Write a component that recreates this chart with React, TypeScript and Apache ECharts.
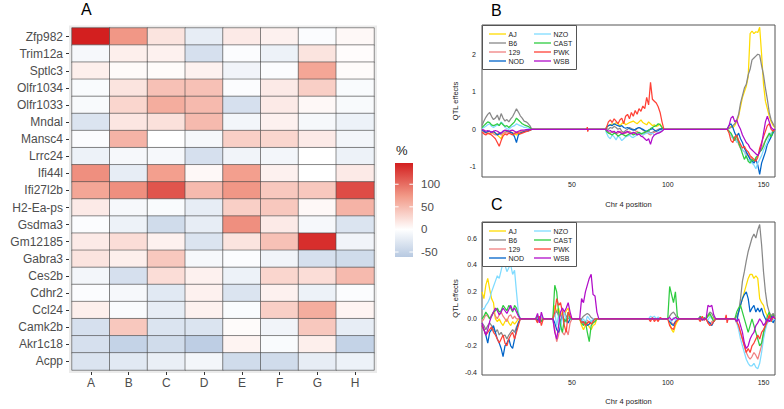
import React, { useEffect, useRef } from "react";
import * as echarts from "echarts";

// ---------------- Panel A: heatmap data ----------------
const genes = ["Zfp982","Trim12a","Sptlc3","Olfr1034","Olfr1033","Mndal","Mansc4","Lrrc24","Ifi44l","Ifi27l2b","H2-Ea-ps","Gsdma3","Gm12185","Gabra3","Ces2b","Cdhr2","Ccl24","Camk2b","Akr1c18","Acpp"];
const groups = ["A","B","C","D","E","F","G","H"];
const pct = [
  [147, 75, 20, -20, 15, 10, -3, 5],
  [-8, 12, 10, -35, -3, -15, 20, 2],
  [12, 4, 3, 10, -12, -3, 65, 3],
  [-5, 20, 45, 45, -3, 15, 35, -5],
  [-6, 30, 60, 50, -35, 15, 5, -6],
  [-30, 18, 22, 50, -10, 10, -8, -15],
  [-3, 55, 0, -8, 35, 30, 15, -10],
  [-15, -8, -8, -35, -12, -10, 0, -15],
  [80, -20, 70, 5, 70, 10, 0, 15],
  [65, 80, 115, 50, 75, 40, 40, 120],
  [15, -8, -5, -20, 35, 40, 5, 55],
  [-3, -15, -40, -20, 80, 15, -8, -30],
  [15, 25, 10, -30, 20, 45, 138, -12],
  [20, 12, 40, -8, -3, -12, -35, -40],
  [-10, -35, 25, 10, -15, 30, 25, 50],
  [-3, -8, -25, 10, -30, 10, -15, -3],
  [12, -5, -20, 10, -5, 35, 60, 8],
  [-35, 40, -30, -30, 3, -12, 40, -20],
  [-35, -50, -40, -55, 8, -5, 12, -50],
  [-30, -25, -18, -10, -40, -40, -20, -15],
];
const legendTicks = [100, 50, 0, -50];
const legendMin = -61;
const legendMax = 147;
const scaleStops: [number, string][] = [[-147, "#4682b4"], [-73.5, "#a8bedb"], [0, "#ffffff"], [73.5, "#f29a88"], [147, "#d31f1f"]];

// ---------------- Panels B & C: QTL effects ----------------
const strains = ["AJ", "B6", "129", "NOD", "NZO", "CAST", "PWK", "WSB"];
const strainColors = ["#FFDC00", "#888888", "#F08080", "#0064C9", "#7FDBFF", "#2ECC40", "#FF4136", "#B10DC9"];
const chrTicks = [50, 100, 150];
const bTicks = [-1, 0, 1, 2];
const cTicks = [-0.4, -0.2, 0, 0.2, 0.4, 0.6];

type Cluster = { pos: number[]; vals: Record<string, number[]> };

const bLeft: Cluster = {
  pos: [3,4,5,6,7,8,9,10,11,12,13,14,15,16,17,18,19,20,21,22,23,24,25,26,27,28,29],
  vals: {
    AJ: [0.0,-0.05,-0.08,-0.10,-0.12,-0.10,-0.08,-0.10,-0.15,-0.20,-0.25,-0.12,-0.08,-0.05,-0.05,-0.08,-0.10,-0.12,-0.15,-0.10,-0.08,-0.05,-0.05,-0.03,-0.02,-0.01,0],
    B6: [0.10,0.22,0.32,0.40,0.45,0.34,0.26,0.30,0.38,0.24,0.42,0.30,0.22,0.26,0.20,0.28,0.34,0.44,0.55,0.46,0.36,0.30,0.22,0.20,0.16,0.10,0],
    "129": [-0.05,-0.08,-0.10,-0.12,-0.10,-0.08,-0.12,-0.15,-0.12,-0.10,-0.15,-0.10,-0.08,-0.10,-0.08,-0.06,-0.10,-0.12,-0.10,-0.08,-0.06,-0.05,-0.05,-0.04,-0.03,-0.02,0],
    NOD: [-0.02,-0.05,-0.08,-0.06,-0.05,-0.08,-0.05,-0.10,-0.15,-0.12,-0.10,-0.05,-0.03,-0.05,-0.05,-0.08,-0.10,-0.20,-0.35,-0.15,-0.10,-0.08,-0.06,-0.05,-0.04,-0.02,0],
    NZO: [0.02,0.05,0.08,0.12,0.15,0.08,0.05,0.08,0.12,0.10,0.20,0.15,0.05,0.02,0.0,0.05,0.08,0.10,0.15,0.12,0.10,0.08,0.05,0.05,0.03,0.02,0],
    CAST: [0.05,0.10,0.15,0.20,0.18,0.12,0.10,0.12,0.15,0.10,0.18,0.12,0.08,0.10,0.05,0.10,0.15,0.20,0.30,0.25,0.20,0.15,0.12,0.10,0.08,0.05,0],
    PWK: [-0.08,-0.12,-0.15,-0.10,-0.12,-0.15,-0.20,-0.25,-0.35,-0.45,-0.30,-0.18,-0.12,-0.15,-0.10,-0.12,-0.15,-0.10,-0.08,-0.10,-0.12,-0.10,-0.08,-0.06,-0.05,-0.03,0],
    WSB: [0.0,-0.02,-0.05,-0.03,-0.05,-0.08,-0.05,-0.03,-0.05,-0.08,-0.10,-0.05,-0.02,-0.03,-0.05,-0.03,-0.02,-0.05,-0.08,-0.05,-0.03,-0.02,-0.02,-0.01,-0.01,0,0],
  },
};
const bTick: Cluster = {
  pos: [57.6, 58, 58.2, 58.6],
  vals: { PWK: [0, 0.06, -0.06, 0] },
};
const bMid: Cluster = {
  pos: [67.5,68,69,70,71,72,73,74,75,76,77,78,79,80,81,82,83,84,85,86,87,88,89,90,91,92,93,94,95,96,97,98],
  vals: {
    AJ: [0,0.05,0.10,0.12,0.15,0.12,0.18,0.15,0.10,0.15,0.20,0.12,0.15,0.18,0.20,0.22,0.18,0.15,0.20,0.25,0.18,0.15,0.12,0.20,0.15,0.10,0.12,0.08,0.10,0.15,0.05,0],
    B6: [0,0.02,0.0,0.05,0.03,0.08,0.05,0.0,0.03,-0.05,-0.08,-0.03,0.0,0.05,0.02,0.0,-0.03,0.02,0.05,0.03,-0.02,-0.05,-0.08,-0.05,-0.10,-0.08,-0.05,-0.03,0.0,0.02,0.0,0],
    "129": [0,-0.05,-0.08,-0.10,-0.05,-0.08,-0.12,-0.10,-0.05,-0.08,-0.12,-0.10,-0.08,-0.05,-0.10,-0.12,-0.08,-0.05,-0.10,-0.12,-0.15,-0.10,-0.08,-0.12,-0.15,-0.10,-0.08,-0.05,-0.10,-0.08,-0.03,0],
    NOD: [0,0.05,0.10,0.12,0.10,0.15,0.12,0.10,0.08,0.10,0.05,0.03,0.05,0.02,0.0,-0.02,0.0,0.03,0.05,0.02,0.0,-0.03,-0.05,-0.02,0.0,0.02,-0.02,-0.05,-0.03,0.0,0.02,0],
    NZO: [0,-0.10,-0.20,-0.25,-0.15,-0.20,-0.28,-0.18,-0.22,-0.30,-0.25,-0.20,-0.18,-0.15,-0.20,-0.22,-0.18,-0.15,-0.12,-0.10,-0.15,-0.12,-0.10,-0.08,-0.12,-0.10,-0.15,-0.12,-0.08,-0.05,-0.03,0],
    CAST: [0,-0.05,-0.10,-0.12,-0.15,-0.10,-0.12,-0.18,-0.15,-0.12,-0.15,-0.18,-0.15,-0.12,-0.10,-0.15,-0.12,-0.10,-0.08,-0.12,-0.10,-0.08,-0.05,-0.03,0.02,0.05,0.08,0.10,0.15,0.12,0.05,0],
    PWK: [0,0.05,0.20,0.25,0.18,0.28,0.22,0.15,0.25,0.30,0.15,0.35,0.40,0.28,0.45,0.35,0.50,0.40,0.55,0.48,0.62,0.55,0.85,0.65,1.25,0.80,0.75,0.70,0.60,0.45,0.20,0],
    WSB: [0,-0.02,-0.05,-0.03,-0.08,-0.05,-0.10,-0.05,-0.08,-0.12,-0.10,-0.08,-0.05,-0.10,-0.12,-0.08,-0.10,-0.15,-0.12,-0.18,-0.20,-0.25,-0.30,-0.25,-0.40,-0.22,-0.15,-0.12,-0.10,-0.08,-0.05,0],
  },
};
const bRight: Cluster = {
  pos: [131,132,133,134,135,136,137,138,139,140,141,142,143,144,145,146,147,148,149,150,151,152,153,154,155,156],
  vals: {
    AJ: [0,0.05,0.08,0.05,0.10,0.20,0.35,0.60,0.85,1.00,1.15,1.40,2.55,2.62,2.55,2.60,2.58,2.72,2.00,1.20,0.75,0.55,0.35,0.20,0.10,0.05],
    B6: [0,0.02,0.05,0.10,0.15,0.25,0.40,0.70,0.90,1.10,1.20,1.45,1.60,1.85,1.90,1.95,2.00,1.98,1.70,1.45,1.10,0.80,0.45,0.25,0.15,0.05],
    "129": [0,-0.05,-0.15,-0.25,-0.30,-0.25,-0.40,-0.50,-0.55,-0.60,-0.65,-0.70,-0.75,-0.80,-0.85,-0.80,-0.70,-0.60,-0.50,-0.40,-0.30,-0.20,-0.15,-0.10,-0.05,0],
    NOD: [0,0.10,0.15,0.05,-0.10,-0.20,-0.10,-0.25,-0.35,-0.50,-0.60,-0.70,-0.80,-0.85,-0.90,-0.80,-0.95,-1.20,-0.90,-0.75,-0.60,-0.40,-0.30,-0.20,-0.10,0],
    NZO: [0,-0.05,-0.15,-0.25,-0.20,-0.35,-0.30,-0.45,-0.55,-0.60,-0.75,-0.80,-0.85,-0.90,-0.95,-1.05,-0.90,-0.80,-0.70,-0.55,-0.45,-0.35,-0.20,-0.10,-0.05,0],
    CAST: [0,-0.05,-0.10,-0.20,-0.30,-0.15,-0.35,-0.50,-0.65,-0.80,-0.70,-0.85,-0.90,-0.80,-0.85,-0.75,-0.70,-0.60,-0.55,-0.45,-0.30,-0.20,-0.10,-0.20,-0.05,0],
    PWK: [0,-0.10,-0.30,-0.35,-0.20,-0.15,-0.30,-0.40,-0.50,-0.45,-0.55,-0.60,-0.70,-0.75,-0.80,-0.85,-0.75,-0.50,-0.35,-0.20,-0.05,0.10,0.15,0.00,-0.05,0],
    WSB: [0,0.10,0.30,0.35,0.20,0.25,0.10,0.00,-0.15,-0.25,-0.35,-0.40,-0.50,-0.55,-0.60,-0.65,-0.70,-0.60,-0.40,-0.10,0.20,0.35,0.20,0.05,0.00,0],
  },
};

const cLeft: Cluster = {
  pos: [3,4,5,6,7,8,9,10,11,12,13,14,15,16,17,18,19,20,21,22,23],
  vals: {
    AJ: [0.20,0.15,0.25,0.30,0.22,0.15,0.12,0.00,-0.02,0.00,-0.03,-0.05,-0.02,0.00,-0.03,-0.05,-0.02,-0.04,-0.02,0.00,0],
    B6: [-0.03,-0.05,-0.08,-0.05,-0.03,-0.05,-0.08,-0.10,-0.08,-0.12,-0.10,-0.13,-0.12,-0.15,-0.12,-0.10,-0.08,-0.10,-0.06,-0.03,0],
    "129": [-0.02,0.00,0.03,0.02,0.00,0.03,0.05,0.02,0.00,0.03,0.05,0.02,0.00,-0.02,0.02,0.03,0.00,0.02,0.00,0.00,0],
    NOD: [-0.05,-0.08,-0.12,-0.18,-0.10,-0.08,-0.05,-0.10,-0.15,-0.18,-0.22,-0.28,-0.20,-0.18,-0.15,-0.20,-0.22,-0.15,-0.08,-0.03,0],
    NZO: [0.08,0.07,0.10,0.12,0.15,0.20,0.24,0.28,0.32,0.30,0.36,0.42,0.40,0.35,0.38,0.40,0.33,0.36,0.20,0.05,0],
    CAST: [0.00,0.02,0.05,0.03,0.00,0.02,0.05,0.06,0.08,0.05,0.06,0.10,0.08,0.06,0.10,0.08,0.05,0.10,0.08,0.03,0],
    PWK: [-0.05,-0.08,-0.12,-0.10,-0.08,-0.06,-0.10,-0.12,-0.15,-0.18,-0.15,-0.12,-0.18,-0.20,-0.15,-0.12,-0.10,-0.15,-0.10,-0.05,0],
    WSB: [-0.03,-0.08,-0.12,-0.08,-0.02,0.02,0.05,0.08,0.06,0.03,0.05,0.08,0.06,0.04,0.07,0.10,0.06,0.08,0.05,0.02,0],
  },
};
const cBlock2: Cluster = {
  pos: [31, 32, 33, 34, 35],
  vals: {
    AJ: [0,0.01,-0.01,0,0], B6: [0,-0.02,0.01,0.02,0], "129": [0,0.01,-0.02,0.01,0], NOD: [0,-0.01,0.02,-0.02,0],
    NZO: [0,0.02,-0.02,0.03,0], CAST: [0,0.02,0,-0.02,0], PWK: [0,-0.03,0.02,-0.05,0], WSB: [0,0.04,-0.03,0.05,0],
  },
};
const cBlock3: Cluster = {
  pos: [40,41,42,43,44,45,46,47,48,49,50],
  vals: {
    AJ: [0,0.10,0.05,0.08,0.02,0.05,0.03,0.06,0.08,0.02,0],
    B6: [0,0.03,0.06,0.02,-0.02,0.03,0.05,0.02,0.00,0.01,0],
    "129": [0,-0.08,-0.17,-0.12,-0.05,-0.10,-0.12,-0.08,-0.12,-0.03,0],
    NOD: [0,-0.03,-0.08,-0.10,-0.05,0.03,-0.02,0.00,-0.03,0.00,0],
    NZO: [0,0.05,-0.05,0.03,-0.08,0.02,0.05,-0.03,0.02,0.00,0],
    CAST: [0,0.25,0.20,0.05,-0.05,-0.10,0.00,-0.02,0.05,0.00,0],
    PWK: [0,0.05,0.15,0.10,0.12,0.05,-0.05,-0.10,0.05,0.02,0],
    WSB: [0,-0.10,-0.15,-0.05,0.05,0.08,0.05,0.08,0.12,0.05,0],
  },
};
const cBlock4: Cluster = {
  pos: [54,55,56,57,58,59,60,61,62,63,64],
  vals: {
    AJ: [0,-0.05,-0.08,-0.05,-0.03,-0.06,-0.08,-0.05,-0.04,0,0],
    B6: [0,0.00,0.02,0.03,0.04,0.03,0.01,0.00,0.00,0,0],
    "129": [0,-0.02,-0.03,-0.02,-0.01,-0.03,-0.02,-0.01,0,0,0],
    NOD: [0,-0.01,-0.03,-0.02,-0.05,-0.04,-0.02,-0.01,0,0,0],
    NZO: [0,-0.02,0.00,-0.03,0.02,0.00,-0.02,0.00,0,0,0],
    CAST: [0,-0.03,-0.05,-0.02,-0.10,-0.17,-0.05,-0.03,-0.02,0,0],
    PWK: [0,-0.03,-0.02,-0.05,-0.03,-0.02,-0.04,-0.02,0,0,0],
    WSB: [0,0.15,0.12,0.20,0.25,0.30,0.33,0.18,0.17,0.05,0],
  },
};
const cBlock5: Cluster = {
  pos: [90,91,92,93,94,95,96,97],
  vals: {
    PWK: [0,-0.02,0.01,-0.02,0.00,-0.02,0.01,0],
    NZO: [0,0.02,0.01,0.02,0.00,0.015,0.00,0],
  },
};
const cBlock6: Cluster = {
  pos: [100,101,102,103,104,105,106],
  vals: {
    AJ: [0,-0.03,-0.08,-0.10,-0.05,-0.02,0],
    B6: [0,0.02,0.04,0.05,0.03,0.00,0],
    "129": [0,-0.02,-0.03,-0.04,-0.02,0,0],
    NOD: [0,-0.02,-0.04,-0.05,-0.02,0,0],
    NZO: [0,-0.01,-0.02,0.01,-0.01,0,0],
    CAST: [0,0.24,0.18,0.12,0.20,0.02,0],
    PWK: [0,-0.05,-0.07,-0.08,-0.03,-0.01,0],
    WSB: [0,0.01,-0.01,0.00,0.01,0,0],
  },
};
const cBlock7: Cluster = {
  pos: [116,117,118,119,120,121,122,123,124,125],
  vals: {
    AJ: [0,0,0,0,0,0.02,0.03,0.01,0,0],
    B6: [0,0,0,0,0,0.03,0.05,0.04,0.01,0],
    "129": [0,0,0,0,0,-0.03,-0.04,-0.02,-0.01,0],
    NOD: [0,0,0,0,0,-0.02,-0.03,-0.05,-0.02,0],
    NZO: [0,0.01,0,-0.01,0,-0.01,0.02,0.00,-0.01,0],
    CAST: [0,0.02,-0.01,0.01,0,0.02,0.04,0.01,-0.02,0],
    PWK: [0,-0.02,0.02,-0.01,0,-0.03,-0.05,-0.04,-0.02,0],
    WSB: [0,0.01,-0.01,0.00,0.00,0.10,0.09,0.10,0.03,0],
  },
};
const cBlock8: Cluster = {
  pos: [130, 130.5, 131, 131.5],
  vals: { PWK: [0, 0.03, -0.03, 0] },
};
const cRight: Cluster = {
  pos: [135,136,137,138,139,140,141,142,143,144,145,146,147,148,149,150,151,152,153,154,155,156],
  vals: {
    AJ: [0,0.02,0.05,0.10,0.15,0.20,0.25,0.30,0.33,0.33,0.30,0.32,0.30,0.15,0.12,0.10,0.05,0.02,0.00,0.03,0.01,0],
    B6: [0,0.02,0.05,0.15,0.28,0.35,0.43,0.50,0.55,0.60,0.63,0.60,0.66,0.70,0.55,0.35,0.20,0.10,0.05,0.02,0.04,0.02],
    "129": [0,-0.03,-0.05,-0.10,-0.15,-0.20,-0.25,-0.28,-0.30,-0.28,-0.25,-0.27,-0.30,-0.25,-0.20,-0.12,-0.05,-0.02,0.02,0.00,-0.02,0],
    NOD: [0,-0.02,0.05,0.10,0.15,0.18,0.20,0.15,0.05,0.08,0.10,0.05,0.08,0.05,0.08,0.03,0.00,-0.03,0.00,0.02,-0.03,0],
    NZO: [0,-0.03,-0.08,-0.15,-0.20,-0.25,-0.30,-0.33,-0.35,-0.35,-0.33,-0.36,-0.37,-0.33,-0.25,-0.15,-0.08,-0.03,0.00,-0.02,-0.01,0],
    CAST: [0,0.05,0.08,0.10,0.05,0.00,-0.05,-0.10,-0.05,0.00,-0.05,-0.10,-0.15,-0.20,-0.18,-0.10,-0.05,0.02,0.05,-0.02,0.03,0],
    PWK: [0,-0.02,-0.05,-0.10,-0.15,-0.20,-0.25,-0.22,-0.25,-0.20,-0.18,-0.15,-0.12,-0.15,-0.10,-0.08,-0.05,-0.02,0.03,-0.02,0.02,0],
    WSB: [0,-0.02,0.00,-0.05,-0.10,-0.18,-0.22,-0.20,-0.15,-0.12,-0.10,-0.05,-0.03,0.00,-0.02,-0.05,-0.03,0.00,-0.02,0.00,0.02,0],
  },
};

const bClusters = [bLeft, bTick, bMid, bRight];
const cClusters = [cLeft, cBlock2, cBlock3, cBlock4, cBlock5, cBlock6, cBlock7, cBlock8, cRight];

// ---------------- helpers ----------------
function buildLine(clusters: Cluster[], strain: string): number[][] {
  const out: number[][] = [];
  clusters.forEach((c) => {
    const v = c.vals[strain];
    c.pos.forEach((p, i) => out.push([p, v ? v[i] : 0]));
  });
  return out;
}
function hexToRgb(h: string) {
  return [parseInt(h.slice(1, 3), 16), parseInt(h.slice(3, 5), 16), parseInt(h.slice(5, 7), 16)];
}
function colorAt(v: number) {
  for (let i = 0; i < scaleStops.length - 1; i++) {
    const [v0, c0] = scaleStops[i];
    const [v1, c1] = scaleStops[i + 1];
    if (v >= v0 && v <= v1) {
      const t = (v - v0) / (v1 - v0);
      const a = hexToRgb(c0), b = hexToRgb(c1);
      const m = a.map((x, k) => Math.round(x + (b[k] - x) * t));
      return `rgb(${m[0]},${m[1]},${m[2]})`;
    }
  }
  return scaleStops[scaleStops.length - 1][1];
}

const FONT = "'Liberation Sans', Arial, Helvetica, sans-serif";

// layout
const HM = { left: 72, top: 28, width: 302, height: 342 };
const BAR = { x: 395, y: 163, w: 18, h: 94 };
const GB = { left: 482, top: 25, width: 293, height: 152 };
const GC = { left: 482, top: 222, width: 293, height: 153 };

function legendGraphics(top: number) {
  const els: any[] = [
    { type: "rect", shape: { x: 482.5, y: top + 0.5, width: 94, height: 44 }, style: { fill: "#fff", stroke: "#555", lineWidth: 1 }, z: 100 },
  ];
  strains.forEach((s, i) => {
    const col = Math.floor(i / 4);
    const row = i % 4;
    const y = top + 9 + row * 9;
    const lx = col === 0 ? 489 : 534;
    els.push({ type: "line", shape: { x1: lx, y1: y, x2: lx + 17, y2: y }, style: { stroke: strainColors[i], lineWidth: 1.3 }, z: 101 });
    els.push({ type: "text", x: lx + 19.5, y, style: { text: s, fill: "#222", font: `7px ${FONT}`, textAlign: "left", textVerticalAlign: "middle" }, z: 101 });
  });
  return els;
}

function buildOption(): any {
  const heatData: number[][] = [];
  pct.forEach((row, r) => row.forEach((v, c) => heatData.push([c, r, v])));

  const barStops = [legendMax, 73.5, 0, legendMin].map((v) => ({
    offset: (legendMax - v) / (legendMax - legendMin),
    color: colorAt(v),
  }));

  const graphics: any[] = [
    { type: "rect", shape: { x: 69, y: 25.5, width: 308, height: 347.5 }, style: { fill: "#ebebeb" }, z: -5 },
    { type: "text", x: 81, y: 9.5, style: { text: "A", fill: "#000", font: `16px ${FONT}`, textAlign: "left", textVerticalAlign: "middle" } },
    { type: "text", x: 491, y: 10, style: { text: "B", fill: "#000", font: `16px ${FONT}`, textAlign: "left", textVerticalAlign: "middle" } },
    { type: "text", x: 491, y: 204, style: { text: "C", fill: "#000", font: `16px ${FONT}`, textAlign: "left", textVerticalAlign: "middle" } },
    { type: "text", x: 396, y: 150, style: { text: "%", fill: "#222", font: `13px ${FONT}`, textAlign: "left", textVerticalAlign: "middle" } },
    {
      type: "rect",
      shape: { x: BAR.x, y: BAR.y, width: BAR.w, height: BAR.h },
      style: { fill: new echarts.graphic.LinearGradient(0, 0, 0, 1, barStops) },
    },
    { type: "text", x: GB.left + GB.width / 2, y: 204, style: { text: "Chr 4 position", fill: "#222", font: `7.5px ${FONT}`, textAlign: "center", textVerticalAlign: "middle" } },
    { type: "text", x: GC.left + GC.width / 2, y: 401, style: { text: "Chr 4 position", fill: "#222", font: `7.5px ${FONT}`, textAlign: "center", textVerticalAlign: "middle" } },
    { type: "text", x: 455, y: GB.top + GB.height / 2, rotation: Math.PI / 2, style: { text: "QTL effects", fill: "#222", font: `7.5px ${FONT}`, textAlign: "center", textVerticalAlign: "middle" } },
    { type: "text", x: 455, y: GC.top + GC.height / 2, rotation: Math.PI / 2, style: { text: "QTL effects", fill: "#222", font: `7.5px ${FONT}`, textAlign: "center", textVerticalAlign: "middle" } },
  ];
  legendTicks.forEach((t) => {
    const y = BAR.y + ((legendMax - t) / (legendMax - legendMin)) * BAR.h;
    graphics.push({ type: "line", shape: { x1: BAR.x, y1: y, x2: BAR.x + 3.6, y2: y }, style: { stroke: "#fff", lineWidth: 1 } });
    graphics.push({ type: "line", shape: { x1: BAR.x + BAR.w - 3.6, y1: y, x2: BAR.x + BAR.w, y2: y }, style: { stroke: "#fff", lineWidth: 1 } });
    graphics.push({ type: "text", x: 421, y, style: { text: String(t), fill: "#4d4d4d", font: `11.5px ${FONT}`, textAlign: "left", textVerticalAlign: "middle" } });
  });
  graphics.push(...legendGraphics(GB.top), ...legendGraphics(GC.top));

  const lineAxisLabel = { fontSize: 7, color: "#222", fontFamily: FONT };

  const lineSeries: any[] = [];
  [bClusters, cClusters].forEach((clusters, gi) => {
    strains.forEach((s, i) => {
      lineSeries.push({
        type: "line",
        name: s,
        xAxisIndex: gi + 1,
        yAxisIndex: gi + 1,
        data: buildLine(clusters, s),
        showSymbol: false,
        symbol: "none",
        lineStyle: { color: strainColors[i], width: 1.25 },
        itemStyle: { color: strainColors[i] },
        emphasis: { disabled: true },
        clip: true,
        z: 3,
      });
    });
  });

  return {
    animation: false,
    backgroundColor: "#ffffff",
    textStyle: { fontFamily: FONT },
    grid: [
      { ...HM, show: false },
      { ...GB, show: true, borderColor: "#555", borderWidth: 1, backgroundColor: "transparent" },
      { ...GC, show: true, borderColor: "#555", borderWidth: 1, backgroundColor: "transparent" },
    ],
    xAxis: [
      {
        type: "category", gridIndex: 0, data: groups, offset: 2,
        axisLine: { show: false },
        axisTick: { show: true, alignWithLabel: true, length: 3, lineStyle: { color: "#333" } },
        axisLabel: { fontSize: 12, color: "#4d4d4d", margin: 5, fontFamily: FONT },
        splitLine: { show: false },
      },
      {
        type: "value", gridIndex: 1, min: 3, max: 156,
        axisLine: { show: false }, axisTick: { show: false }, splitLine: { show: false },
        axisLabel: { ...lineAxisLabel, margin: 4, customValues: chrTicks },
      },
      {
        type: "value", gridIndex: 2, min: 3, max: 156,
        axisLine: { show: false }, axisTick: { show: false }, splitLine: { show: false },
        axisLabel: { ...lineAxisLabel, margin: 4, customValues: chrTicks },
      },
    ],
    yAxis: [
      {
        type: "category", gridIndex: 0, data: genes, inverse: true, offset: 3,
        axisLine: { show: false },
        axisTick: { show: true, alignWithLabel: true, length: 3, lineStyle: { color: "#333" } },
        axisLabel: { fontSize: 12, color: "#4d4d4d", margin: 6, interval: 0, fontFamily: FONT },
        splitLine: { show: false },
      },
      {
        type: "value", gridIndex: 1, min: -1.27, max: 2.78,
        axisLine: { show: false }, axisTick: { show: false }, splitLine: { show: false },
        axisLabel: { ...lineAxisLabel, margin: 6, customValues: bTicks },
      },
      {
        type: "value", gridIndex: 2, min: -0.417, max: 0.719,
        axisLine: { show: false }, axisTick: { show: false }, splitLine: { show: false },
        axisLabel: { ...lineAxisLabel, margin: 5, customValues: cTicks, formatter: (v: number) => v.toFixed(1) },
      },
    ],
    visualMap: {
      show: false, type: "continuous", min: -147, max: 147, dimension: 2, seriesIndex: 0,
      inRange: { color: scaleStops.map((s) => s[1]) },
    },
    graphic: { elements: graphics },
    series: [
      {
        type: "heatmap", xAxisIndex: 0, yAxisIndex: 0, data: heatData,
        itemStyle: { borderColor: "rgba(70,70,70,0.75)", borderWidth: 0.8 },
        emphasis: { disabled: true },
        z: 2,
      },
      ...lineSeries,
    ],
  };
}

export default function App() {
  const ref = useRef<HTMLDivElement>(null);
  useEffect(() => {
    if (!ref.current) return;
    const chart = echarts.init(ref.current, undefined, { renderer: "svg" });
    chart.setOption(buildOption());
    return () => chart.dispose();
  }, []);
  return (
    <div
      ref={ref}
      style={{ position: "absolute", left: 0, top: 0, width: 784, height: 409, background: "#fff" }}
    />
  );
}
